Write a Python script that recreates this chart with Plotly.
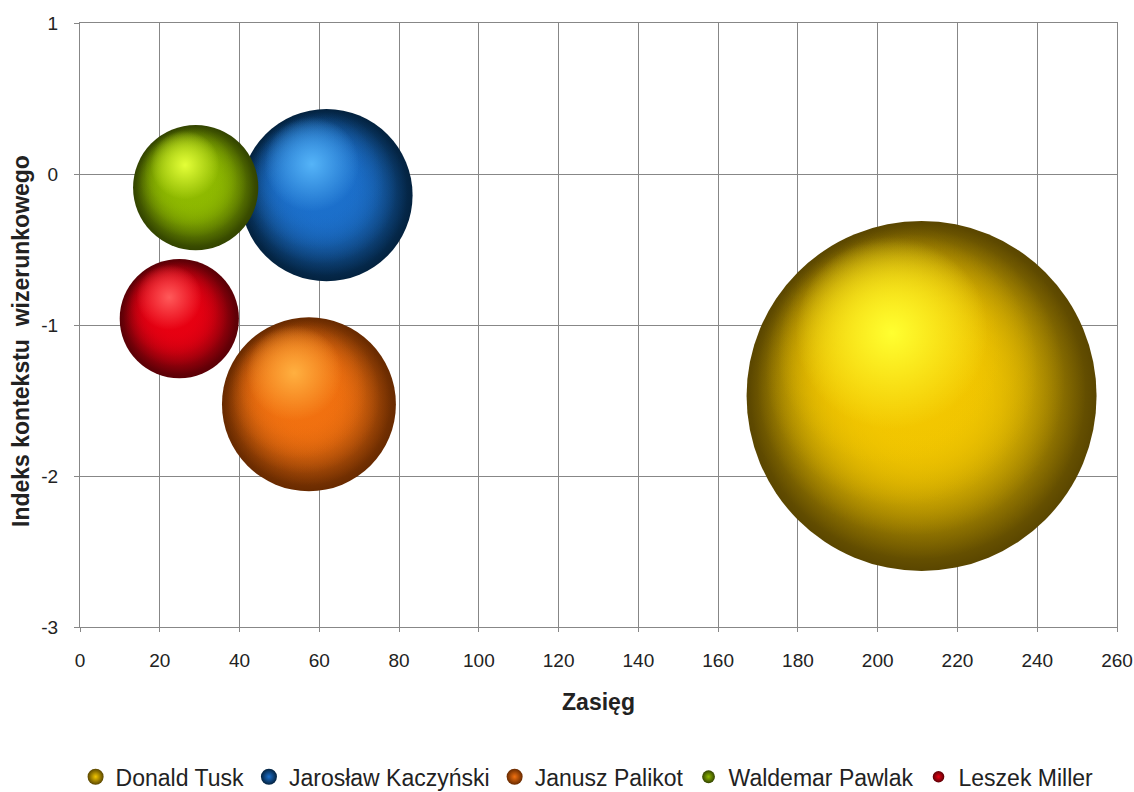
import plotly.graph_objects as go

# --- data ---------------------------------------------------------------
names = ["Donald Tusk", "Jarosław Kaczyński", "Janusz Palikot",
         "Waldemar Pawlak", "Leszek Miller"]
zasieg = [211, 61.8, 57.4, 29.0, 24.9]            # x: reach
indeks = [-1.47, -0.14, -1.525, -0.09, -0.958]    # y: image context index
wielkosc = [100, 24.2, 24.7, 12.8, 11.6]          # bubble size (area)

x_ticks = [0, 20, 40, 60, 80, 100, 120, 140, 160, 180, 200, 220, 240, 260]
y_ticks = [-3, -2, -1, 0, 1]
y_tick_text = ["-3", "-2", "-1", "0", "1"]

# sphere shading: (rim, body, highlight)
palette = [
    ("#5a4600", "#f3c700", "#ffff30"),
    ("#03223f", "#1c70cc", "#55b4f8"),
    ("#682a00", "#f27110", "#ffb040"),
    ("#334400", "#8fba00", "#e4ff38"),
    ("#5a0006", "#e80012", "#ff5a5a"),
]

# --- geometry of the plotting area ---------------------------------------
W, H = 1134, 792
ML, MR, MT, MB = 80, 17, 23, 165
x_range = [0, 260]
y_range = [-3, 1]
px_per_x = (W - ML - MR) / (x_range[1] - x_range[0])
px_per_y = (H - MT - MB) / (y_range[1] - y_range[0])

max_diam = 350.0
sizeref = 2.0 * max(wielkosc) / max_diam ** 2


def radius_px(s):
    return (2.0 * s / sizeref) ** 0.5 / 2.0


def rgba(hexcol, a):
    h = hexcol.lstrip("#")
    r, g, b = int(h[0:2], 16), int(h[2:4], 16), int(h[4:6], 16)
    return f"rgba({r},{g},{b},{a})"


# light falls from the upper left: body fill layers sit towards that side
# (offset = gap to the rim), so the dark rim gathers on the lower right
LIGHT_DIR = (-0.6, 0.8)
body_fracs = [0.96, 0.88, 0.78, 0.64]
highlight = (0.55, 0.17, 0.36)

FONT = "Liberation Sans, Arial, sans-serif"
fig = go.Figure()


def shaded(x, y, s, r, frac, dx, dy, center, edge, name):
    return go.Scatter(
        x=[x + dx * r / px_per_x], y=[y + dy * r / px_per_y],
        mode="markers", showlegend=False, legendgroup=name, hoverinfo="skip",
        marker=dict(size=[s * frac ** 2], sizemode="area", sizeref=sizeref,
                    color=edge, gradient=dict(type="radial", color=center),
                    line=dict(width=0), opacity=1),
    )


for name, x, y, s, (rim, body, light) in zip(names, zasieg, indeks, wielkosc, palette):
    r = radius_px(s)
    # base sphere: body colour in the middle fading to a dark rim
    fig.add_trace(go.Scatter(
        x=[x], y=[y], mode="markers", name=name, showlegend=True,
        legendgroup=name,
        marker=dict(size=[s], sizemode="area", sizeref=sizeref,
                    color=rim, gradient=dict(type="radial", color=body),
                    line=dict(width=0), opacity=1),
        hoverinfo="name",
    ))
    for f in body_fracs:
        gap = (1 - f) * 0.85
        fig.add_trace(shaded(x, y, s, r, f, LIGHT_DIR[0] * gap, LIGHT_DIR[1] * gap,
                             body, rgba(body, 0), name))
    f, hx, hy = highlight
    fig.add_trace(shaded(x, y, s, r, f, -hx, hy, light, rgba(light, 0), name))

axis_common = dict(
    showgrid=True, gridcolor="#878787", gridwidth=1,
    showline=True, linecolor="#878787", linewidth=1, mirror=True,
    zeroline=False, ticks="outside", tickcolor="#878787", automargin=False,
    tickfont=dict(family=FONT, size=19, color="#222222"),
)

fig.update_layout(
    width=W, height=H,
    margin=dict(l=ML, r=MR, t=MT, b=MB, autoexpand=False),
    paper_bgcolor="white", plot_bgcolor="white",
    xaxis=dict(range=x_range, tickvals=x_ticks, ticklen=4,
               ticklabelstandoff=12,
               title=dict(text="Zasięg", standoff=24,
                          font=dict(family=FONT, size=23, color="#222222",
                                    weight="bold")),
               **axis_common),
    yaxis=dict(range=y_range, tickvals=y_ticks, ticktext=y_tick_text,
               ticklen=5, ticklabelstandoff=12, **axis_common),
    annotations=[dict(
        text="Indeks kontekstu  wizerunkowego", textangle=-90,
        xref="paper", yref="paper",
        x=(21 - ML) / (W - ML - MR), y=(H - MB - 341) / (H - MT - MB),
        xanchor="center", yanchor="middle", showarrow=False,
        font=dict(family=FONT, size=23, color="#222222", weight="bold"),
    )],
    legend=dict(orientation="h", x=0.489, xanchor="center",
                y=-0.248, yanchor="middle", itemwidth=30,
                font=dict(family=FONT, size=23, color="#222222"),
                bgcolor="rgba(0,0,0,0)"),
    showlegend=True,
)

fig.write_html("out.html")
